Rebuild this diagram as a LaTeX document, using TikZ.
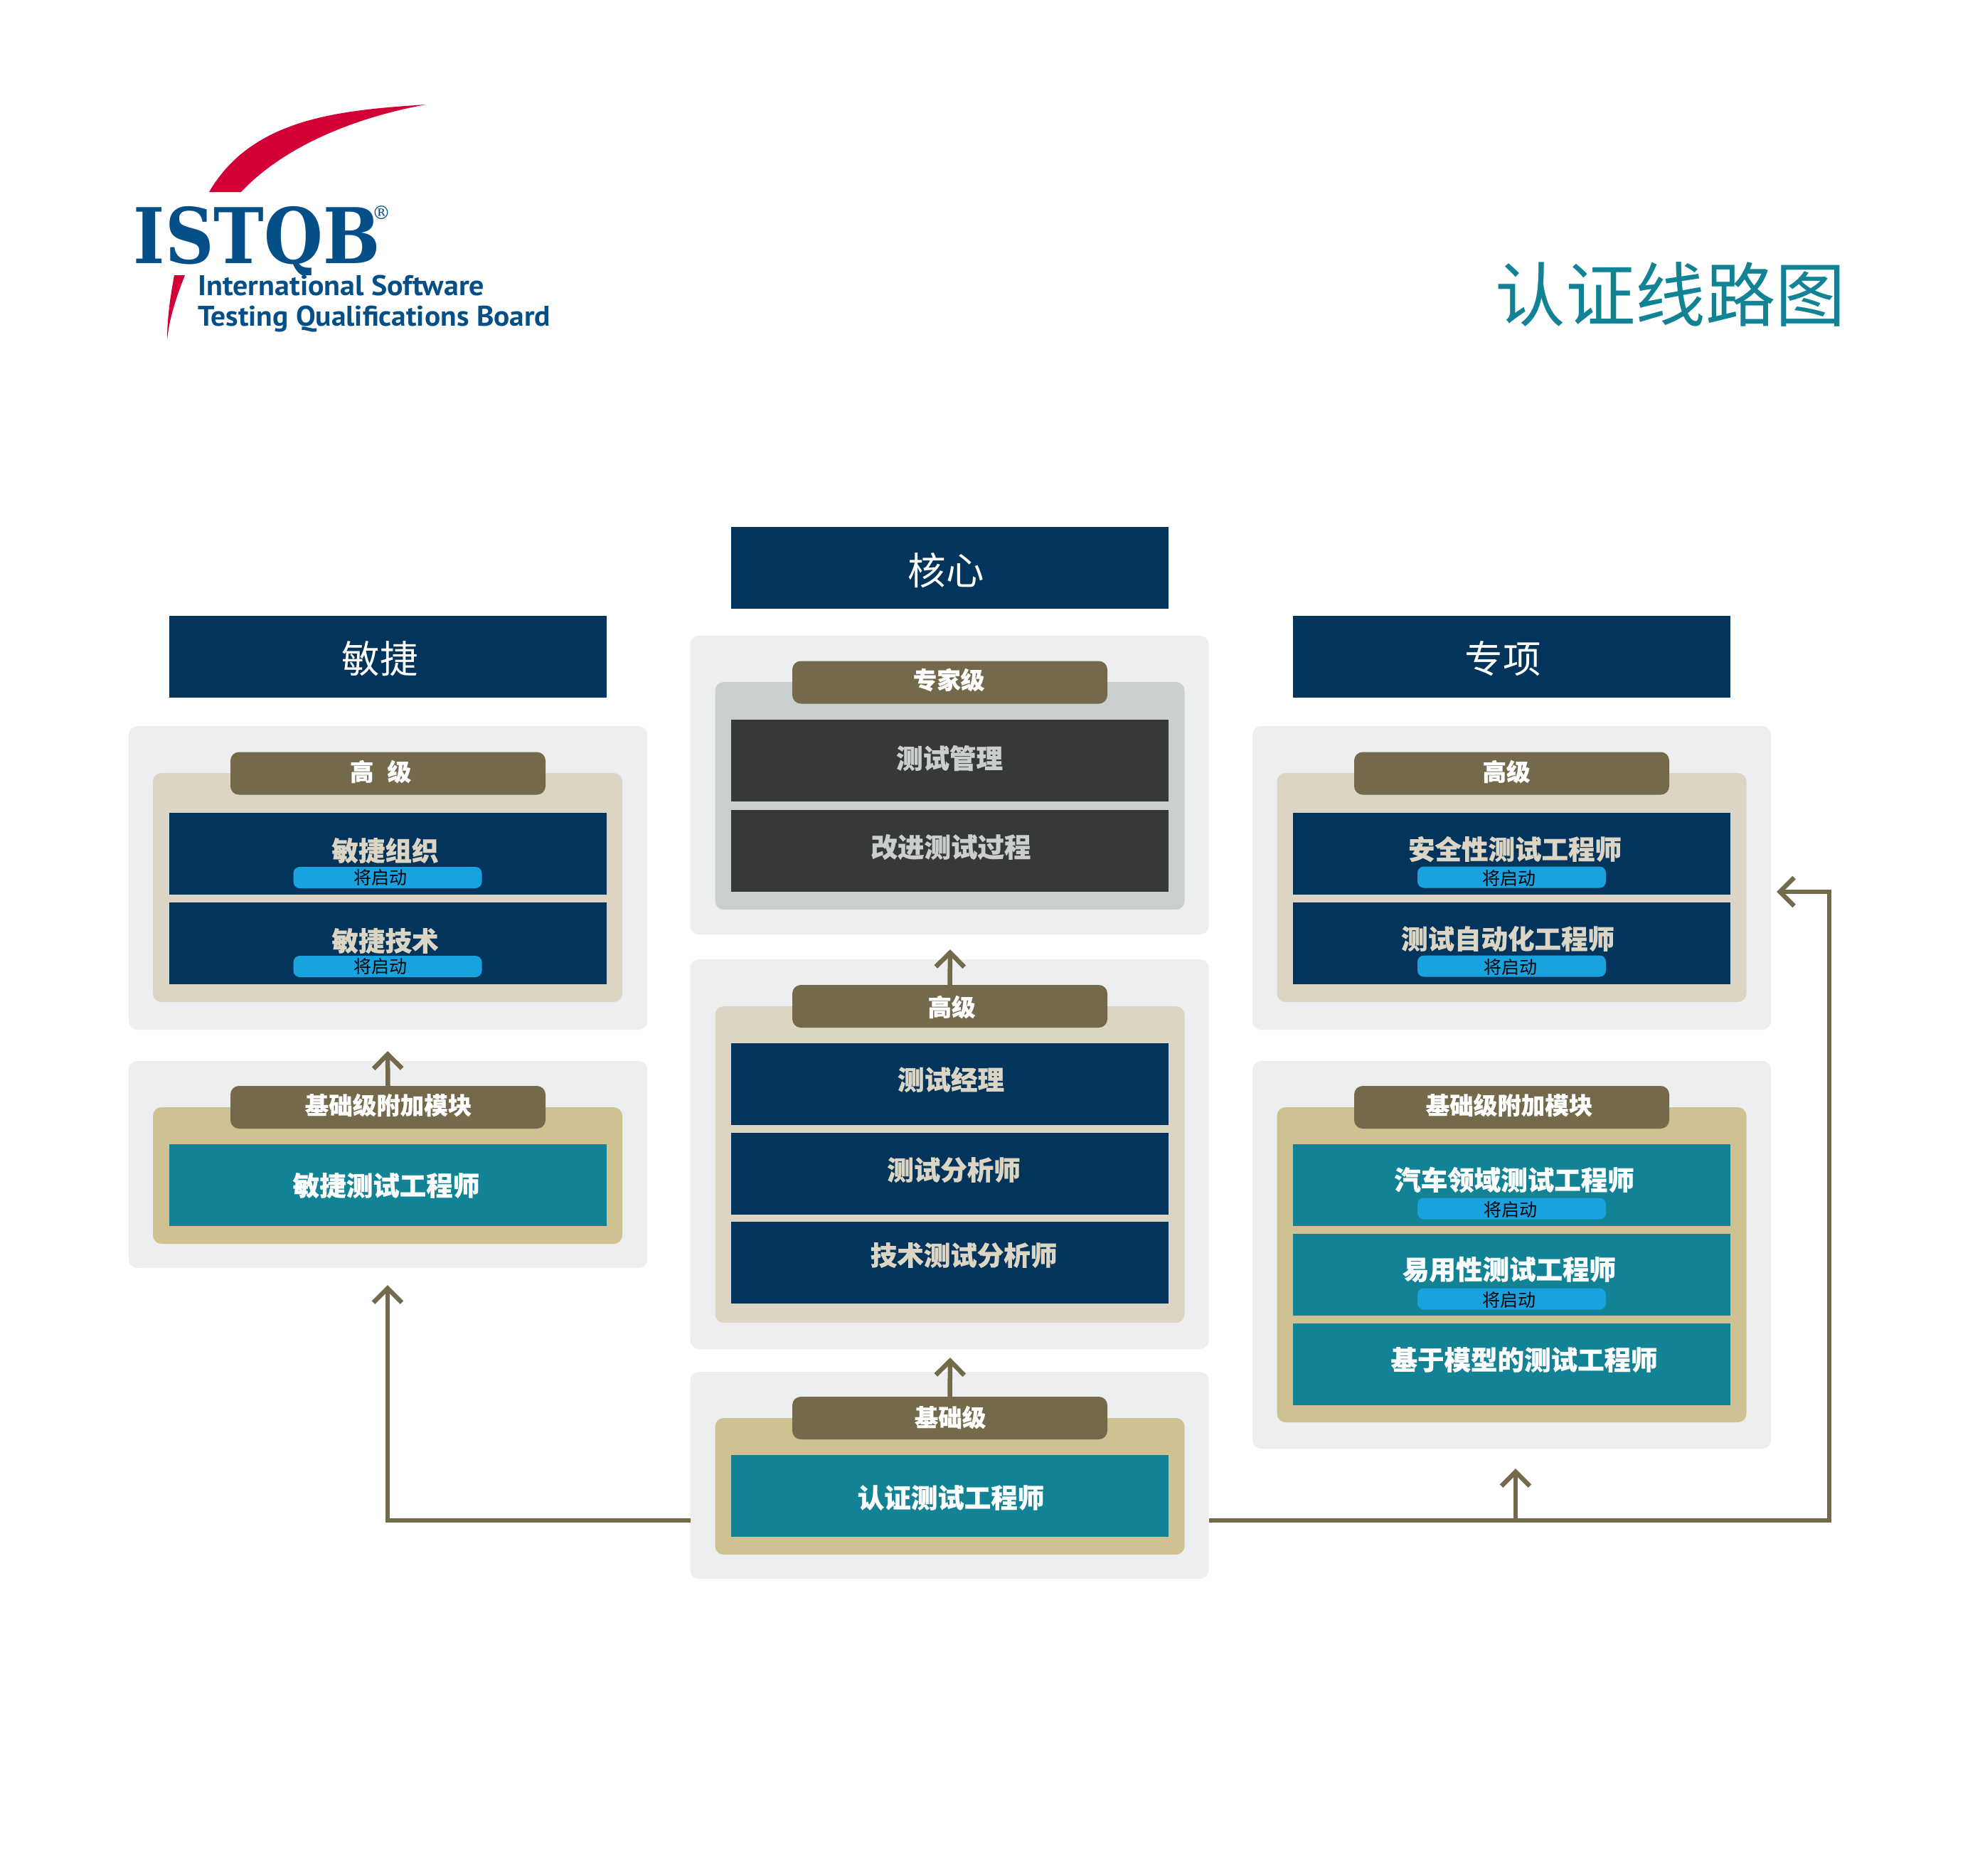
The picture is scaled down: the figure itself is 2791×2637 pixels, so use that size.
\documentclass[tikz,border=0pt]{standalone}
\usepackage{fontspec}
\usetikzlibrary{arrows.meta}
\newfontfamily\cjk{Noto Sans CJK SC}
\newfontfamily\cjkheavy[BoldFeatures={FakeBold=0.5}]{Noto Sans CJK SC}
\newfontfamily\logoserif{DejaVu Serif}
\newfontfamily\logosans{PT Sans}
\definecolor{navy}{HTML}{03355C}
\definecolor{tealbox}{HTML}{128395}
\definecolor{darkgrey}{HTML}{373938}
\definecolor{panelgrey}{HTML}{EDEEF0}
\definecolor{sandlight}{HTML}{DDD5C3}
\definecolor{sanddark}{HTML}{CFC292}
\definecolor{slategrey}{HTML}{C9CFCF}
\definecolor{olive}{HTML}{75694B}
\definecolor{soonblue}{HTML}{18A3E0}
\definecolor{logoblue}{HTML}{044F88}
\definecolor{logored}{HTML}{D30038}
\tikzset{
	block/.style={inner sep=0pt, outer sep=0pt, draw=none},
	outerpanel/.style={block, fill=panelgrey, rounded corners=12pt, minimum width=729pt},
	innerpanel/.style={block, rounded corners=12pt, minimum width=660pt},
	levelpill/.style={block, fill=olive, rounded corners=12pt, minimum width=443pt, minimum height=60pt},
	course/.style={block, minimum width=615pt, minimum height=115pt},
	soonpill/.style={block, fill=soonblue, rounded corners=9pt, minimum width=265pt, minimum height=30pt},
	headbox/.style={course, fill=navy},
	headtext/.style={inner sep=0pt, text=white, font=\cjk\fontsize{53.5pt}{53.5pt}\selectfont},
	leveltext/.style={inner sep=0pt, text=white, font=\cjkheavy\bfseries\fontsize{33.5pt}{33.5pt}\selectfont},
	coursetext/.style={inner sep=0pt, font=\cjkheavy\bfseries\fontsize{37.5pt}{37.5pt}\selectfont},
	soontext/.style={inner sep=0pt, text=black, font=\cjk\fontsize{25pt}{25pt}\selectfont},
	flowline/.style={draw=olive, line width=6.5pt, -{Straight Barb[length=20pt,width=40pt]}},
	brandline/.style={inner sep=0pt, anchor=base west, text=logoblue, font=\logosans\bfseries\fontsize{40pt}{40pt}\selectfont}
}
\begin{document}
\begin{tikzpicture}[x=1pt, y=-1pt]
	\useasboundingbox (0,0) rectangle (2791,2637);

	% logo
	\fill[logored] (294,270) .. controls (355,165) and (480,155) .. (599,147) .. controls (500,165) and (400,205) .. (339,270) -- cycle;
	\fill[logored] (245,387) -- (260,387) .. controls (245,425) and (238,450) .. (235,478) .. controls (235,445) and (240,415) .. (245,387) -- cycle;
	\begin{scope}
		\clip (150,270) rectangle (560,386);
		\node[inner sep=0pt, anchor=base, text=logoblue, xscale=0.88, font=\logoserif\bfseries\fontsize{108pt}{108pt}\selectfont] (brand) at (361,370) {ISTQB};
	\end{scope}
	\node[inner sep=0pt, text=logoblue, font=\logoserif\fontsize{26pt}{26pt}\selectfont] (regmark) at (536,299) {®};
	\node[brandline, xscale=1.05] (brandone) at (278,415) {International Software};
	\node[brandline, xscale=1.037] (brandtwo) at (278,458) {Testing Qualifications Board};

	% title
	\node[inner sep=0pt, text=tealbox, font=\cjk\fontsize{98.5pt}{98.5pt}\selectfont] (title) at (2349,414) {认证线路图};

	% column heads
	\node[headbox] (headagile) at (545,923) {};
	\node[headbox] (headcore) at (1335.5,798.5) {};
	\node[headbox] (headspecial) at (2125.5,923) {};
	\node[headtext] (agilename) at (534,926) {敏捷};
	\node[headtext] (corename) at (1330,802) {核心};
	\node[headtext] (specialname) at (2113,926) {专项};

	% panels
	\node[outerpanel, minimum height=427pt] (agilehighouter) at (545.5,1234.5) {};
	\node[outerpanel, minimum height=291pt] (agileaddouter) at (545.5,1637.5) {};
	\node[outerpanel, minimum height=420pt] (expertouter) at (1335,1104) {};
	\node[outerpanel, minimum height=548pt] (coreouter) at (1335,1623) {};
	\node[outerpanel, minimum height=291pt] (baseouter) at (1335,2074.5) {};
	\node[outerpanel, minimum height=427pt] (specialhighouter) at (2125.5,1234.5) {};
	\node[outerpanel, minimum height=545pt] (specialaddouter) at (2125.5,1764.5) {};

	\node[innerpanel, fill=sandlight, minimum height=322pt] (agilehighinner) at (545,1248) {};
	\node[innerpanel, fill=sanddark, minimum height=192pt] (agileaddinner) at (545,1653) {};
	\node[innerpanel, fill=slategrey, minimum height=320pt] (expertinner) at (1335.5,1119) {};
	\node[innerpanel, fill=sandlight, minimum height=445pt] (coreinner) at (1335.5,1637.5) {};
	\node[innerpanel, fill=sanddark, minimum height=192pt] (baseinner) at (1335.5,2090) {};
	\node[innerpanel, fill=sandlight, minimum height=322pt] (specialhighinner) at (2125.5,1248) {};
	\node[innerpanel, fill=sanddark, minimum height=443pt] (specialaddinner) at (2125.5,1778.5) {};

	% level pills
	\node[levelpill] (agilehighpill) at (545.5,1087.5) {};
	\node[levelpill] (agileaddpill) at (545.5,1557) {};
	\node[levelpill] (expertpill) at (1335.5,959.5) {};
	\node[levelpill] (corepill) at (1335.5,1415) {};
	\node[levelpill] (basepill) at (1335.5,1994) {};
	\node[levelpill] (specialhighpill) at (2125.5,1087.5) {};
	\node[levelpill] (specialaddpill) at (2125.5,1557) {};
	\node[leveltext] (agilehightext) at (535,1085) {高\hspace{19pt}级};
	\node[leveltext] (agileaddtext) at (546,1554) {基础级附加模块};
	\node[leveltext] (experttext) at (1334,956) {专家级};
	\node[leveltext] (coretext) at (1338,1416) {高级};
	\node[leveltext] (basetext) at (1336,1993) {基础级};
	\node[leveltext] (specialhightext) at (2118,1085) {高级};
	\node[leveltext] (specialaddtext) at (2122,1554) {基础级附加模块};

	% connectors
	\coordinate (agiletip) at (545,1478);
	\coordinate (experttip) at (1336,1335);
	\coordinate (coretip) at (1336,1909);
	\coordinate (lefttip) at (545,1807);
	\coordinate (rightcorner) at (2572,2138);
	\coordinate (midtip) at (2131,2065);
	\coordinate (righttip) at (2498,1254);
	\draw[flowline] ([yshift=-63.5pt]baseouter.west) -| (lefttip);
	\draw[flowline] ([yshift=-63.5pt]baseouter.east) -- (rightcorner) |- (righttip);
	\draw[flowline] (midtip |- rightcorner) -- (midtip);
	\draw[flowline] (agileaddpill.north) -- (agiletip);
	\draw[flowline] (corepill.north) -- (experttip);
	\draw[flowline] (basepill.north) -- (coretip);

	% courses, agile
	\node[course, fill=navy] (orgbox) at (545,1200) {};
	\node[course, fill=navy] (techbox) at (545,1326.5) {};
	\node[course, fill=tealbox] (agiletesterbox) at (545,1666.5) {};
	\node[soonpill] (orgsoon) at (545,1234) {};
	\node[soonpill] (techsoon) at (545,1359) {};
	\node[coursetext, text=sandlight] (orgtext) at (541.5,1196) {敏捷组织};
	\node[coursetext, text=sandlight] (techtext) at (541.5,1323) {敏捷技术};
	\node[soontext] (orgsoontext) at (535,1234) {将启动};
	\node[soontext] (techsoontext) at (535,1359) {将启动};
	\node[coursetext, text=white] (agiletestertext) at (543,1667) {敏捷测试工程师};

	% courses, core
	\node[course, fill=darkgrey] (managebox) at (1335.5,1069.5) {};
	\node[course, fill=darkgrey] (improvebox) at (1335.5,1196) {};
	\node[course, fill=navy] (managerbox) at (1335.5,1524) {};
	\node[course, fill=navy] (analystbox) at (1335.5,1650) {};
	\node[course, fill=navy] (techanalystbox) at (1335.5,1775.5) {};
	\node[course, fill=tealbox] (foundationbox) at (1335.5,2103) {};
	\node[coursetext, text=slategrey] (managetext) at (1335,1066) {测试管理};
	\node[coursetext, text=slategrey] (improvetext) at (1337,1191) {改进测试过程};
	\node[coursetext, text=sandlight] (managertext) at (1337,1518) {测试经理};
	\node[coursetext, text=sandlight] (analysttext) at (1341,1645) {测试分析师};
	\node[coursetext, text=sandlight] (techanalysttext) at (1355,1765) {技术测试分析师};
	\node[coursetext, text=white] (foundationtext) at (1337,2106) {认证测试工程师};

	% courses, specialist
	\node[course, fill=navy] (securitybox) at (2125.5,1200) {};
	\node[course, fill=navy] (autobox) at (2125.5,1326.5) {};
	\node[course, fill=tealbox] (carbox) at (2125.5,1666) {};
	\node[course, fill=tealbox] (usabilitybox) at (2125.5,1792.5) {};
	\node[course, fill=tealbox] (modelbox) at (2125.5,1918) {};
	\node[soonpill] (securitysoon) at (2125.5,1233.5) {};
	\node[soonpill] (autosoon) at (2125.5,1358.5) {};
	\node[soonpill] (carsoon) at (2125.5,1699.5) {};
	\node[soonpill] (usabilitysoon) at (2125.5,1826.5) {};
	\node[coursetext, text=sandlight] (securitytext) at (2130,1194) {安全性测试工程师};
	\node[coursetext, text=sandlight] (autotext) at (2120,1320) {测试自动化工程师};
	\node[coursetext, text=white] (cartext) at (2129,1659) {汽车领域测试工程师};
	\node[coursetext, text=white] (usabilitytext) at (2122,1785) {易用性测试工程师};
	\node[coursetext, text=white] (modeltext) at (2143,1912) {基于模型的测试工程师};
	\node[soontext] (securitysoontext) at (2122,1235) {将启动};
	\node[soontext] (autosoontext) at (2124,1360) {将启动};
	\node[soontext] (carsoontext) at (2124,1701) {将启动};
	\node[soontext] (usabilitysoontext) at (2122,1828) {将启动};
\end{tikzpicture}
\end{document}
